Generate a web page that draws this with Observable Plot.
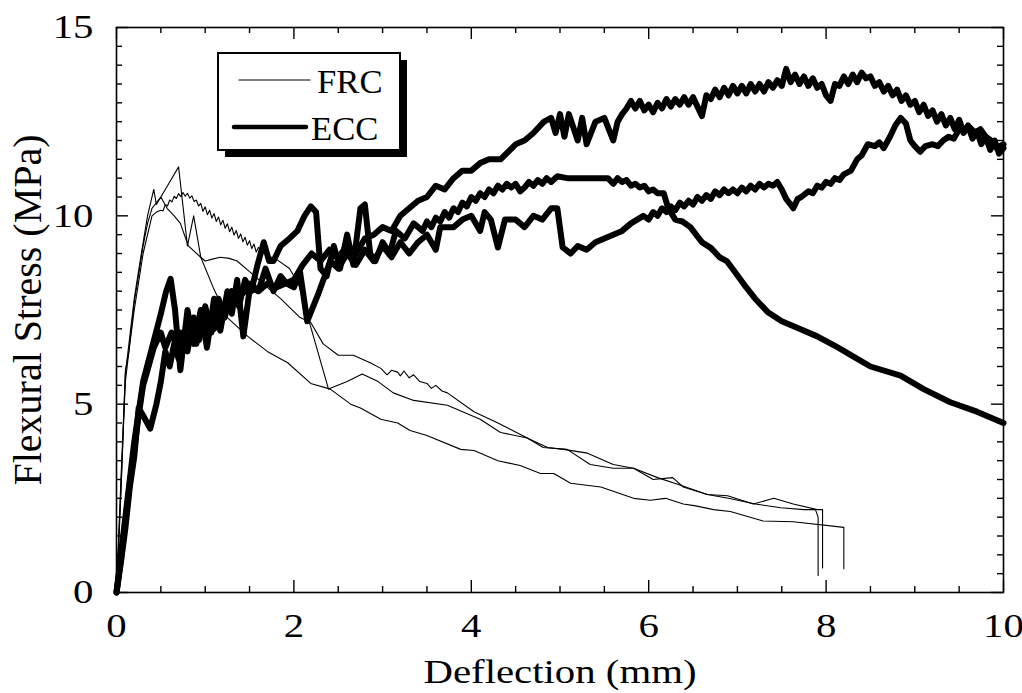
<!DOCTYPE html>
<html>
<head>
<meta charset="utf-8">
<script src="https://cdn.jsdelivr.net/npm/d3@7"></script>
<script src="https://cdn.jsdelivr.net/npm/@observablehq/plot@0.6"></script>
<style>
html,body{margin:0;padding:0;background:#fff;}
#chart svg{font-family:"Liberation Serif","Times New Roman",serif;display:block;}
</style>
</head>
<body>
<div id="chart"></div>
<script>
// ---- labels & ticks ----
const seriesNames = ["FRC", "ECC"];
const xLabel = "Deflection (mm)";
const yLabel = "Flexural Stress (MPa)";
const xMajorTicks = [0, 2, 4, 6, 8, 10];
const xMinorTicks = [0.5, 1, 1.5, 2.5, 3, 3.5, 4.5, 5, 5.5, 6.5, 7, 7.5, 8.5, 9, 9.5];
const yMajorTicks = [0, 5, 10, 15];
const yMinorTicks = [0.5, 1, 1.5, 2, 2.5, 3, 3.5, 4, 4.5, 5.5, 6, 6.5, 7, 7.5, 8, 8.5, 9, 9.5, 10.5, 11, 11.5, 12, 12.5, 13, 13.5, 14, 14.5];

// ---- FRC specimens (deflection mm, stress MPa) ----
const frc1 = [[0,0],[0.05,2.6],[0.1,5.9],[0.14,6.4],[0.2,7.7],[0.3,9.2],[0.35,9.8],[0.4,10.2],[0.5,10.5],[0.6,10.9],[0.7,11.3],[0.8,9.2],[0.87,10.0],[0.95,8.9],[1.0,8.8],[1.08,8.85],[1.17,8.9],[1.27,8.87],[1.36,8.8],[1.51,8.5],[1.7,8.1],[1.85,7.8],[2.07,7.3],[2.19,7.17],[2.33,6.6],[2.5,6.3],[2.67,6.3],[2.86,6.1],[2.98,5.95],[3.05,5.78],[3.1,5.9],[3.17,5.85],[3.2,5.75],[3.24,5.88],[3.3,5.7],[3.35,5.78],[3.42,5.6],[3.5,5.55],[3.55,5.42],[3.6,5.5],[3.67,5.35],[3.73,5.3],[4.03,4.8],[4.3,4.5],[4.63,4.1],[4.86,3.85],[5.04,3.8],[5.31,3.7],[5.6,3.4],[5.83,3.3],[6.1,3.05],[6.36,2.85],[6.66,2.6],[6.9,2.5],[7.2,2.35],[7.49,2.25],[7.75,2.2],[7.88,2.2],[7.91,2.0],[7.91,0.45]];
const frc2 = [[0,0],[0.05,3.0],[0.1,5.8],[0.15,6.8],[0.2,7.8],[0.28,9.0],[0.35,10.0],[0.42,10.7],[0.45,10.3],[0.5,10.5],[0.57,10.2],[0.65,10.0],[0.72,9.8],[0.81,9.2],[0.95,8.9],[1.09,8.1],[1.25,7.3],[1.48,6.8],[1.7,6.4],[1.93,6.1],[2.19,5.55],[2.41,5.4],[2.64,5.0],[2.75,4.9],[2.98,4.6],[3.17,4.5],[3.31,4.3],[3.5,4.17],[3.88,3.8],[4.03,3.77],[4.3,3.5],[4.55,3.37],[4.78,3.16],[4.93,3.16],[5.12,2.9],[5.46,2.8],[5.83,2.5],[6.02,2.45],[6.19,2.5],[6.39,2.35],[6.53,2.3],[6.73,2.2],[6.92,2.15],[7.29,1.9],[7.63,1.88],[8.2,1.73],[8.2,0.63]];
const frc3 = [[0,0],[0.05,2.8],[0.1,5.6],[0.15,6.6],[0.2,7.5],[0.3,9.0],[0.4,10.0],[0.45,10.1],[0.5,10.15],[0.525,10.13],[0.55,10.3],[0.575,10.26],[0.6,10.42],[0.625,10.37],[0.65,10.52],[0.675,10.46],[0.7,10.59],[0.725,10.51],[0.75,10.62],[0.775,10.52],[0.8,10.6],[0.825,10.47],[0.85,10.53],[0.875,10.38],[0.9,10.42],[0.925,10.26],[0.95,10.33],[0.975,10.12],[1.0,10.24],[1.025,10.03],[1.05,10.15],[1.075,9.94],[1.1,10.06],[1.125,9.85],[1.15,9.97],[1.175,9.76],[1.2,9.88],[1.225,9.67],[1.25,9.79],[1.275,9.58],[1.3,9.7],[1.325,9.49],[1.35,9.61],[1.375,9.4],[1.4,9.52],[1.425,9.31],[1.45,9.43],[1.475,9.22],[1.5,9.34],[1.525,9.13],[1.55,9.25],[1.575,9.04],[1.6,9.16],[1.7,8.95],[1.8,8.85],[1.95,8.6],[2.05,8.2],[2.39,5.4],[2.6,5.6],[2.77,5.8],[2.95,5.6],[3.12,5.3],[3.35,5.1],[3.73,4.97],[4.1,4.6],[4.33,4.25],[4.63,4.1],[4.81,3.85],[5.08,3.8],[5.34,3.4],[5.6,3.3],[5.83,3.3],[6.05,3.0],[6.27,3.05],[6.39,2.8],[6.66,2.6],[6.89,2.57],[7.18,2.35],[7.41,2.5],[7.63,2.35],[7.9,2.2],[7.96,2.2],[7.96,0.65]];

// ---- ECC specimens ----
const ecc1 = [[0,0],[0.05,0.8],[0.1,1.7],[0.15,2.8],[0.2,3.6],[0.25,4.9],[0.3,4.7],[0.38,4.35],[0.45,5.0],[0.5,5.6],[0.55,6.4],[0.6,6.0],[0.65,6.6],[0.7,6.2],[0.75,6.9],[0.8,6.4],[0.85,7.1],[0.9,6.6],[0.95,7.2],[1.0,6.8],[1.05,7.4],[1.1,7.0],[1.2,7.6],[1.3,7.8],[1.4,7.9],[1.5,8.1],[1.6,8.0],[1.7,8.2],[1.8,8.1],[1.9,8.2],[2.0,8.3],[2.1,8.7],[2.2,9.0],[2.3,8.8],[2.4,9.1],[2.5,8.9],[2.6,9.2],[2.7,9.0],[2.8,9.4],[2.9,9.5],[3.0,9.7],[3.1,9.6],[3.2,10.0],[3.3,10.2],[3.4,10.4],[3.5,10.5],[3.6,10.8],[3.7,10.7],[3.8,11.0],[3.9,11.2],[4.0,11.2],[4.1,11.4],[4.2,11.5],[4.33,11.5],[4.5,11.9],[4.6,12.0],[4.7,12.2],[4.82,12.5],[4.9,12.6],[4.95,12.2],[5.0,12.7],[5.05,12.1],[5.1,12.7],[5.2,12.0],[5.25,12.6],[5.3,11.9],[5.4,12.5],[5.5,12.6],[5.6,12.0],[5.65,12.5],[5.7,12.7],[5.75,12.85],[5.8,13.05],[5.85,12.85],[5.9,13.05],[5.95,12.8],[6.0,12.95],[6.05,12.75],[6.1,13.0],[6.15,12.85],[6.2,13.1],[6.25,12.9],[6.3,13.1],[6.35,12.95],[6.4,13.15],[6.45,12.95],[6.5,13.15],[6.55,12.9],[6.6,12.65],[6.65,13.2],[6.7,13.1],[6.75,13.35],[6.8,13.15],[6.85,13.4],[6.9,13.2],[6.95,13.45],[7.0,13.25],[7.05,13.45],[7.1,13.25],[7.15,13.5],[7.2,13.3],[7.25,13.5],[7.3,13.3],[7.35,13.55],[7.4,13.4],[7.45,13.6],[7.5,13.45],[7.55,13.9],[7.6,13.55],[7.65,13.75],[7.7,13.5],[7.75,13.7],[7.8,13.45],[7.85,13.65],[7.9,13.4],[7.95,13.5],[8.0,13.2],[8.05,13.05],[8.1,13.5],[8.15,13.45],[8.2,13.7],[8.25,13.5],[8.3,13.75],[8.35,13.55],[8.4,13.8],[8.45,13.65],[8.5,13.7],[8.55,13.45],[8.6,13.55],[8.65,13.3],[8.7,13.45],[8.75,13.2],[8.8,13.35],[8.85,13.05],[8.9,13.2],[8.95,12.95],[9.0,13.05],[9.05,12.75],[9.1,12.95],[9.15,12.65],[9.2,12.8],[9.25,12.5],[9.3,12.7],[9.35,12.4],[9.4,12.6],[9.45,12.3],[9.5,12.55],[9.55,12.2],[9.6,12.4],[9.65,12.05],[9.7,12.25],[9.75,11.9],[9.8,12.1],[9.85,11.75],[9.9,12.0],[9.95,11.65],[10.0,11.8]];
const ecc2 = [[0,0],[0.05,0.9],[0.1,1.9],[0.15,2.9],[0.2,3.8],[0.25,4.7],[0.3,5.5],[0.35,5.9],[0.42,6.5],[0.5,6.9],[0.55,6.5],[0.62,6.9],[0.67,6.6],[0.72,6.9],[0.8,6.5],[0.87,7.3],[0.93,6.7],[1.0,7.6],[1.07,6.9],[1.15,7.8],[1.22,7.3],[1.3,8.0],[1.38,7.6],[1.45,8.3],[1.52,8.0],[1.59,8.7],[1.66,9.3],[1.72,8.8],[1.77,8.8],[1.85,9.2],[1.95,9.4],[2.04,9.6],[2.12,10.0],[2.19,10.25],[2.25,10.1],[2.3,8.6],[2.37,8.4],[2.45,9.2],[2.52,8.6],[2.6,9.5],[2.67,8.7],[2.75,10.2],[2.8,10.3],[2.86,9.0],[2.92,8.8],[3.0,9.3],[3.08,9.0],[3.15,9.6],[3.25,9.4],[3.35,9.8],[3.45,9.6],[3.5,9.85],[3.55,9.7],[3.6,9.95],[3.65,9.85],[3.7,10.1],[3.75,9.95],[3.8,10.2],[3.85,10.1],[3.9,10.35],[3.95,10.25],[4.0,10.5],[4.05,10.4],[4.1,10.6],[4.15,10.5],[4.2,10.7],[4.25,10.6],[4.3,10.8],[4.35,10.7],[4.4,10.85],[4.45,10.75],[4.5,10.85],[4.55,10.65],[4.6,10.75],[4.65,10.9],[4.7,10.8],[4.75,10.95],[4.8,10.85],[4.85,11.0],[4.9,10.9],[4.97,11.05],[5.08,11.0],[5.54,11.0],[5.6,10.85],[5.65,11.0],[5.7,10.9],[5.75,10.95],[5.8,10.8],[5.85,10.85],[5.9,10.75],[5.95,10.8],[6.0,10.65],[6.05,10.7],[6.1,10.6],[6.17,10.6],[6.22,10.2],[6.3,9.9],[6.38,9.85],[6.47,9.7],[6.55,9.45],[6.6,9.3],[6.7,9.15],[6.8,8.9],[6.88,8.8],[6.96,8.55],[7.1,8.1],[7.2,7.8],[7.34,7.45],[7.5,7.2],[7.7,7.0],[7.9,6.8],[8.1,6.55],[8.28,6.3],[8.5,6.0],[8.84,5.76],[9.1,5.4],[9.4,5.05],[9.7,4.8],[10.0,4.5]];
const ecc3 = [[0,0],[0.05,1.0],[0.1,2.0],[0.15,3.0],[0.2,4.0],[0.3,5.6],[0.4,6.5],[0.5,7.4],[0.56,8.0],[0.61,8.33],[0.66,7.5],[0.72,5.9],[0.8,7.5],[0.87,6.6],[0.95,7.5],[1.02,6.5],[1.1,7.8],[1.17,6.95],[1.25,8.0],[1.3,7.4],[1.36,8.3],[1.43,6.8],[1.51,8.2],[1.6,8.0],[1.68,8.6],[1.77,8.0],[1.85,8.4],[1.92,8.2],[2.0,8.1],[2.07,8.5],[2.15,7.2],[2.27,7.9],[2.41,8.8],[2.5,8.6],[2.6,9.0],[2.7,8.7],[2.8,9.1],[2.9,8.8],[3.0,9.2],[3.1,8.9],[3.2,9.3],[3.3,9.0],[3.4,9.3],[3.5,9.5],[3.6,9.1],[3.65,9.7],[3.8,9.7],[3.9,9.9],[4.0,10.0],[4.1,9.6],[4.15,10.1],[4.22,9.9],[4.3,9.16],[4.38,9.9],[4.5,9.9],[4.6,9.7],[4.7,10.0],[4.8,9.9],[4.9,10.2],[4.97,10.2],[5.03,9.16],[5.12,9.0],[5.2,9.2],[5.3,9.1],[5.4,9.3],[5.5,9.4],[5.6,9.5],[5.7,9.6],[5.8,9.8],[5.94,10.0],[6.0,9.9],[6.05,10.1],[6.1,10.0],[6.15,10.2],[6.2,10.1],[6.25,10.25],[6.3,10.15],[6.35,10.35],[6.4,10.25],[6.45,10.4],[6.5,10.3],[6.55,10.5],[6.6,10.4],[6.65,10.55],[6.7,10.45],[6.75,10.65],[6.8,10.55],[6.85,10.7],[6.9,10.6],[6.95,10.7],[7.0,10.6],[7.05,10.75],[7.1,10.65],[7.15,10.8],[7.2,10.7],[7.25,10.85],[7.3,10.75],[7.35,10.85],[7.4,10.8],[7.45,10.9],[7.5,10.7],[7.55,10.45],[7.6,10.3],[7.63,10.2],[7.68,10.45],[7.72,10.5],[7.8,10.65],[7.85,10.6],[7.9,10.8],[7.95,10.75],[8.0,10.9],[8.05,10.85],[8.1,11.0],[8.15,10.95],[8.2,11.1],[8.28,11.2],[8.35,11.5],[8.4,11.6],[8.47,11.9],[8.55,11.85],[8.6,11.95],[8.65,11.8],[8.72,12.1],[8.78,12.4],[8.84,12.6],[8.9,12.45],[8.95,12.0],[9.0,11.85],[9.06,11.7],[9.12,11.85],[9.2,11.9],[9.26,11.85],[9.32,12.0],[9.38,12.1],[9.44,12.05],[9.5,12.3],[9.56,12.25],[9.62,12.35],[9.68,12.2],[9.74,12.3],[9.8,12.1],[9.86,12.0],[9.92,11.8],[10.0,11.9]];

// ---- build tables ----
const frcCurves = [frc1, frc2, frc3];
const eccCurves = [ecc1, ecc2, ecc3];
const toRows = (curves, name) => curves.flatMap((c, i) => c.map(([x, y]) => ({id: name + i, x, y})));
const frcRows = toRows(frcCurves, seriesNames[0]);
const eccRows = toRows(eccCurves, seriesNames[1]);

// ---- layout ----
const W = 1022, H = 693, mL = 116, mR = 19, mT = 27, mB = 101;
const innerW = W - mL - mR, innerH = H - mT - mB;
const majorLen = 12, minorLen = 6, tickW = 1.4;

const chart = Plot.plot({
  width: W, height: H,
  marginLeft: mL, marginRight: mR, marginTop: mT, marginBottom: mB,
  x: {domain: [0, 10]},
  y: {domain: [0, 15]},
  style: {fontFamily: "Liberation Serif", fontSize: "34px", background: "white", color: "black", overflow: "visible"},
  marks: [
    // inward ticks: bottom, top, left, right
    Plot.ruleX(xMinorTicks, {x: d => d, insetTop: innerH - minorLen, strokeWidth: tickW}),
    Plot.ruleX(xMajorTicks, {x: d => d, insetTop: innerH - majorLen, strokeWidth: tickW}),
    Plot.ruleX(xMinorTicks, {x: d => d, insetBottom: innerH - minorLen, strokeWidth: tickW}),
    Plot.ruleX(xMajorTicks, {x: d => d, insetBottom: innerH - majorLen, strokeWidth: tickW}),
    Plot.ruleY(yMinorTicks, {y: d => d, insetRight: innerW - minorLen, strokeWidth: tickW}),
    Plot.ruleY(yMajorTicks, {y: d => d, insetRight: innerW - majorLen, strokeWidth: tickW}),
    Plot.ruleY(yMinorTicks, {y: d => d, insetLeft: innerW - minorLen, strokeWidth: tickW}),
    Plot.ruleY(yMajorTicks, {y: d => d, insetLeft: innerW - majorLen, strokeWidth: tickW}),
    Plot.axisX(xMajorTicks, {anchor: "bottom", tickSize: 0, tickPadding: 20, fontSize: 34, label: null}),
    Plot.axisY(yMajorTicks, {anchor: "left", tickSize: 0, tickPadding: 23, fontSize: 34, label: null}),
    Plot.line(frcRows, {x: "x", y: "y", z: "id", stroke: "black", strokeWidth: 1.1}),
    Plot.line(eccRows, {x: "x", y: "y", z: "id", stroke: "black", strokeWidth: 6, strokeLinejoin: "round", strokeLinecap: "round"}),
    Plot.frame({stroke: "black", strokeWidth: 1.6}),
    Plot.text([xLabel], {text: d => d, frameAnchor: "bottom", dy: 90, fontSize: 34, textAnchor: "middle"}),
    Plot.text([yLabel], {text: d => d, frameAnchor: "left", dx: -88, rotate: -90, fontSize: 40, textAnchor: "middle", className: "ylab"})
  ]
});
document.getElementById("chart").appendChild(chart);

// ---- legend (boxed, with drop shadow) ----
const svg = d3.select(chart);
const lg = svg.append("g").attr("font-family", "Liberation Serif").attr("font-size", 33).attr("text-anchor", "start");
const bx = 218, by = 53, bw = 182, bh = 97, sh = 7;
lg.append("rect").attr("x", bx + sh).attr("y", by + sh).attr("width", bw).attr("height", bh).attr("fill", "black");
lg.append("rect").attr("x", bx).attr("y", by).attr("width", bw).attr("height", bh)
  .attr("fill", "white").attr("stroke", "black").attr("stroke-width", 2);
const legendItems = [
  {name: seriesNames[0], w: 1.1, x1: 239, x2: 310, y: 80, tx: 317, ty: 93},
  {name: seriesNames[1], w: 4.5, x1: 234, x2: 306, y: 127, tx: 311, ty: 140}
];
legendItems.forEach(it => {
  lg.append("line").attr("x1", it.x1).attr("x2", it.x2).attr("y1", it.y).attr("y2", it.y)
    .attr("stroke", "black").attr("stroke-width", it.w).attr("stroke-linecap", "round");
  lg.append("text").attr("x", it.tx).attr("y", it.ty).attr("class", "legtext")
    .attr("text-anchor", "start").text(it.name);
});

// ---- widen glyphs like the original figure's wide serif type ----
svg.selectAll("text").each(function () {
  const len = this.getComputedTextLength();
  if (!len) return;
  const isLegend = this.getAttribute("class") === "legtext";
  const isRot = !!this.closest(".ylab") || (this.getAttribute("transform") || "").includes("rotate");
  const k = isLegend ? 1.05 : isRot ? 1.0 : 1.2;
  if (k !== 1) {
    this.setAttribute("textLength", len * k);
    this.setAttribute("lengthAdjust", "spacingAndGlyphs");
  }
});
</script>
</body>
</html>
